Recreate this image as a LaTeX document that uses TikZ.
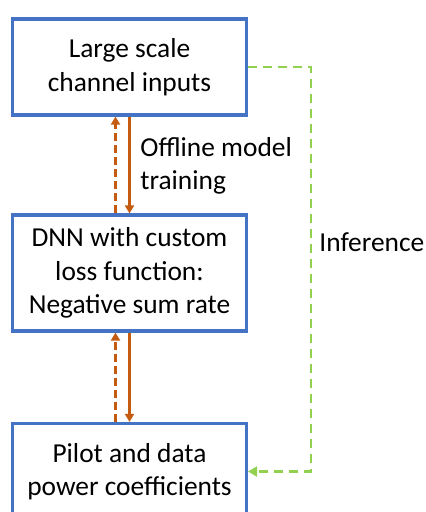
\documentclass[tikz,border=0pt]{standalone}
\usepackage{fontspec}
\setmainfont{Carlito}
\usetikzlibrary{arrows.meta,calc}

\definecolor{boxblue}{RGB}{68,114,196}
\definecolor{trainorange}{RGB}{197,90,17}
\definecolor{infergreen}{RGB}{146,208,80}

\tikzset{
    block/.style={draw=boxblue, line width=1.6pt, align=center, inner sep=0pt,
        minimum width=117pt, font=\fontsize{13.7}{16.8}\selectfont},
    train/.style={draw=trainorange, line width=1.1pt, -{Triangle[width=4.5pt,length=4pt]}},
    trainback/.style={train, dash pattern=on 4pt off 2pt},
    infer/.style={draw=infergreen, line width=1.2pt, dash pattern=on 4.5pt off 3pt,
        -{Triangle[width=5pt,length=4.5pt]}},
    lbl/.style={anchor=west, align=left, inner sep=0pt, font=\fontsize{13.7}{16.8}\selectfont}
}

\begin{document}
\begin{tikzpicture}[x=0.5pt, y=0.5pt]
        \useasboundingbox (0,0) rectangle (426,512);
        \node[block, minimum height=48pt] (inputs) at (129.5,445) {Large scale\\channel inputs};
        \node[block, minimum height=58pt] (dnn) at (129.5,239) {DNN with custom\\loss function:\\Negative sum rate};
        \node[block, minimum height=48pt] (power) at (129.5,40.5) {Pilot and data\\power coefficients};

        % offline training
        \draw[train] (inputs.south) -- (dnn.north);
        \draw[trainback] ($(dnn.north)+(-14,0)$) -- ($(inputs.south)+(-14,0)$);
        \draw[train] (dnn.south) -- (power.north);
        \draw[trainback] ($(power.north)+(-14,0)$) -- ($(dnn.south)+(-14,0)$);
        \node[lbl] (offline) at (140,346) {Offline model\\training};

        % inference
        \coordinate (bend) at (311,445);
        \draw[infer] (inputs.east) -- (bend) |- (power.east);
        \node[lbl] (inference) at (319,270) {Inference};
\end{tikzpicture}
\end{document}
